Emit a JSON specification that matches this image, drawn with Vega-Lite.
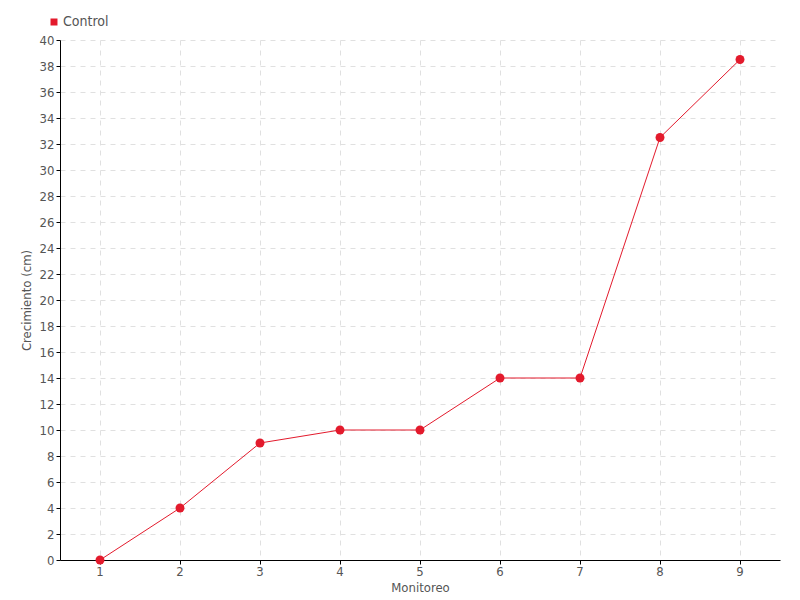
{
  "$schema": "https://vega.github.io/schema/vega-lite/v6.json",
  "width": 720,
  "height": 520,
  "autosize": {"type": "none"},
  "padding": {"left": 60, "top": 40, "right": 20, "bottom": 40},
  "background": "white",
  "config": {
    "font": "DejaVu Sans Condensed, Roboto, sans-serif",
    "view": {"stroke": null},
    "axis": {
      "labelFont": "DejaVu Sans Condensed, Roboto, sans-serif",
      "titleFont": "DejaVu Sans Condensed, Roboto, sans-serif",
      "labelFontSize": 13,
      "titleFontSize": 13,
      "titleFontWeight": "normal",
      "labelColor": "#555555",
      "titleColor": "#555555",
      "domainColor": "#000000",
      "tickColor": "#000000",
      "tickSize": 4,
      "gridColor": "#e0e0e0",
      "gridDash": [5, 5],
      "gridWidth": 1
    },
    "legend": {"labelFont": "DejaVu Sans Condensed, Roboto, sans-serif"}
  },
  "data": {
    "values": [
      {"monitoreo": "1", "crecimiento": 0, "serie": "Control"},
      {"monitoreo": "2", "crecimiento": 4, "serie": "Control"},
      {"monitoreo": "3", "crecimiento": 9, "serie": "Control"},
      {"monitoreo": "4", "crecimiento": 10, "serie": "Control"},
      {"monitoreo": "5", "crecimiento": 10, "serie": "Control"},
      {"monitoreo": "6", "crecimiento": 14, "serie": "Control"},
      {"monitoreo": "7", "crecimiento": 14, "serie": "Control"},
      {"monitoreo": "8", "crecimiento": 32.5, "serie": "Control"},
      {"monitoreo": "9", "crecimiento": 38.5, "serie": "Control"}
    ]
  },
  "encoding": {
    "x": {
      "field": "monitoreo",
      "type": "ordinal",
      "title": "Monitoreo",
      "scale": {"type": "band", "paddingInner": 0, "paddingOuter": 0},
      "axis": {"labelAngle": 0, "grid": true, "titlePadding": 3, "labelPadding": 1}
    },
    "y": {
      "field": "crecimiento",
      "type": "quantitative",
      "title": "Crecimiento (cm)",
      "scale": {"domain": [0, 40], "nice": false},
      "axis": {"values": [0,2,4,6,8,10,12,14,16,18,20,22,24,26,28,30,32,34,36,38,40], "grid": true, "titlePadding": 6, "labelPadding": 2}
    },
    "color": {
      "field": "serie",
      "type": "nominal",
      "scale": {"range": ["#e31a2c"]},
      "legend": {
        "title": null,
        "orient": "none",
        "legendX": -13,
        "legendY": -25,
        "symbolType": "square",
        "symbolSize": 30,
        "labelFontSize": 14,
        "labelColor": "#555555",
        "labelOffset": 2
      }
    }
  },
  "layer": [
    {"mark": {"type": "line", "strokeWidth": 1, "color": "#ff4455"}},
    {"mark": {"type": "point", "filled": true, "size": 80, "opacity": 1}}
  ]
}
